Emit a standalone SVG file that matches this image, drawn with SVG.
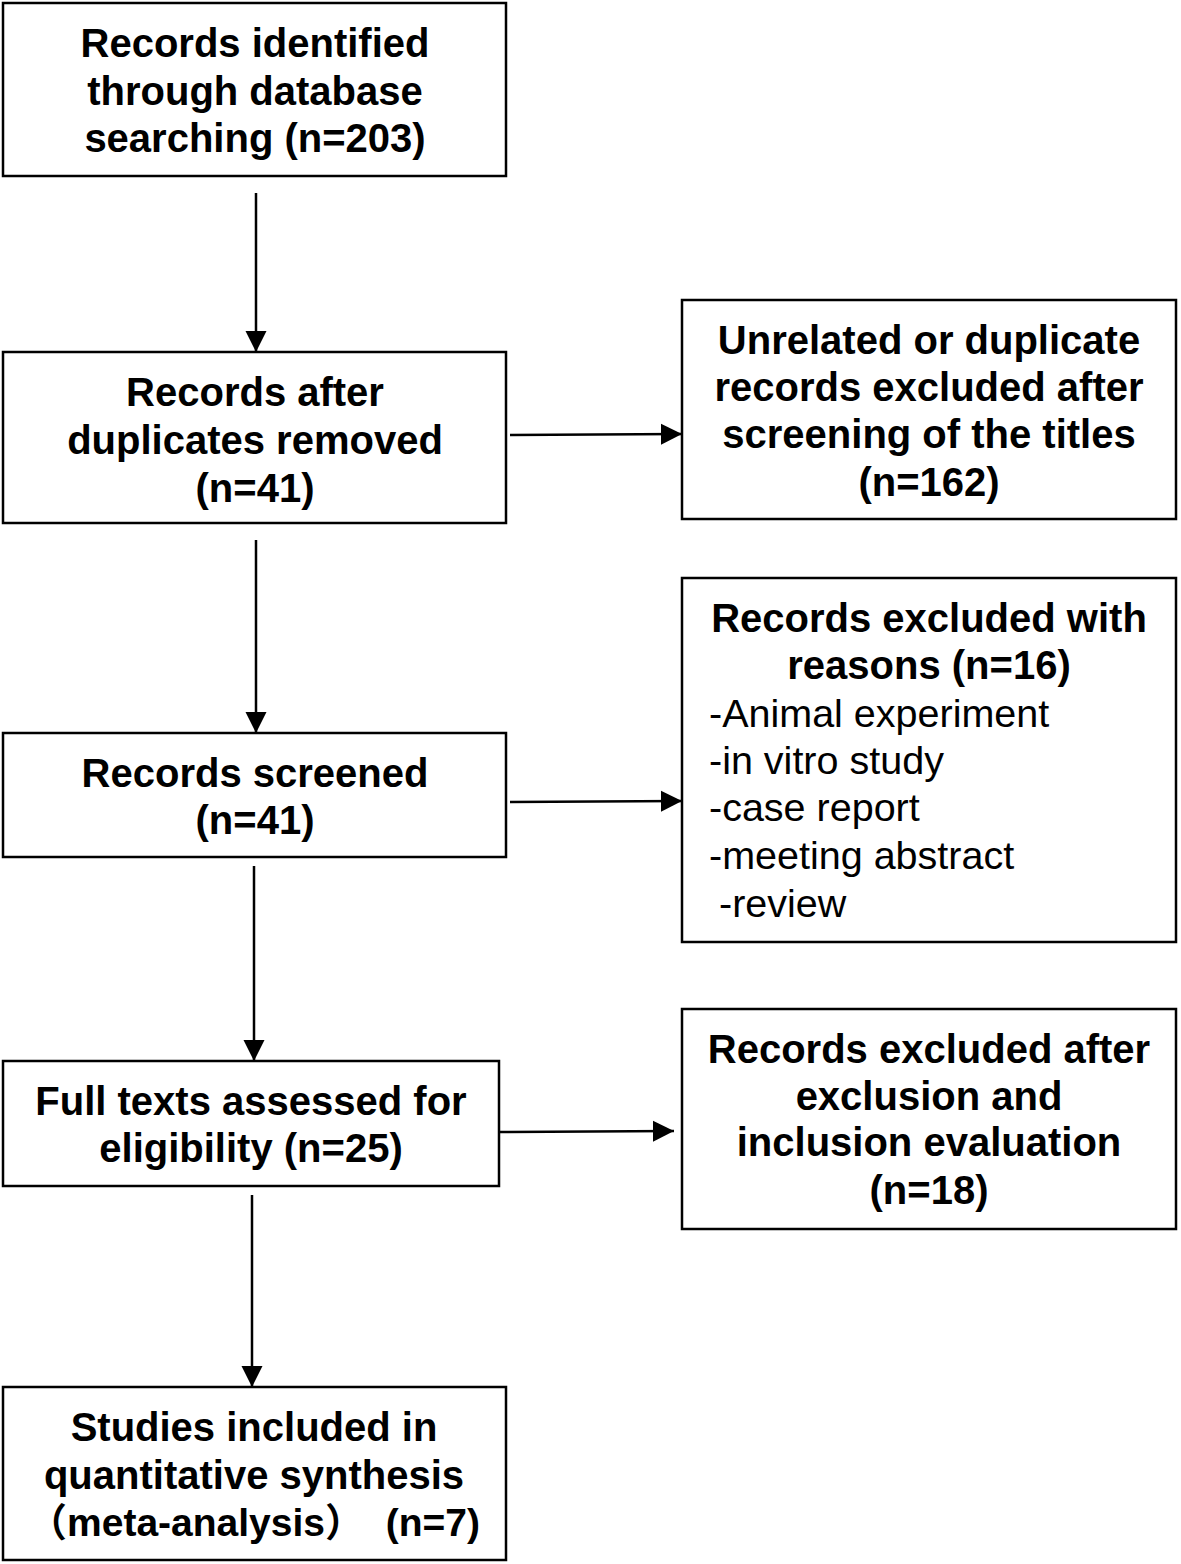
<svg xmlns="http://www.w3.org/2000/svg" width="1181" height="1564" viewBox="0 0 1181 1564">
<style>
.box{fill:#fff;stroke:#000;stroke-width:2.5}
.t{font-family:"Liberation Sans",Arial,"Noto Sans CJK SC",sans-serif;font-size:40px;font-weight:bold;text-anchor:middle;fill:#000}
.r{font-family:"Liberation Sans",Arial,sans-serif;font-size:39.5px;fill:#000}
.c{stroke:#000;stroke-width:2.5;fill:none;marker-end:url(#ah)}
</style>
<defs>
<marker id="ah" viewBox="0 0 10 10" refX="10" refY="5" markerWidth="8.5" markerHeight="8.5" markerUnits="strokeWidth" orient="auto">
<path d="M0,0 L10,5 L0,10 z" fill="#000"/>
</marker>
</defs>
<rect width="1181" height="1564" fill="#fff"/>
<g id="connectors">
<line class="c" x1="256" y1="193" x2="256" y2="352"/>
<line class="c" x1="510" y1="435" x2="682" y2="434"/>
<line class="c" x1="256" y1="540" x2="256" y2="733"/>
<line class="c" x1="510" y1="802" x2="682" y2="801"/>
<line class="c" x1="254" y1="866" x2="254" y2="1061"/>
<line class="c" x1="500" y1="1132" x2="674" y2="1131"/>
<line class="c" x1="252" y1="1195" x2="252" y2="1387"/>
</g>
<g id="n1">
<rect class="box" x="3" y="3" width="503" height="173"/>
<text class="t" x="255" y="57">Records identified</text>
<text class="t" x="255" y="105">through database</text>
<text class="t" x="255" y="152">searching (n=203)</text>
</g>
<g id="n2">
<rect class="box" x="3" y="352" width="503" height="171"/>
<text class="t" x="255" y="406">Records after</text>
<text class="t" x="255" y="454">duplicates removed</text>
<text class="t" x="255" y="502">(n=41)</text>
</g>
<g id="n3">
<rect class="box" x="682" y="300" width="494" height="219"/>
<text class="t" x="929" y="354">Unrelated or duplicate</text>
<text class="t" x="929" y="401">records excluded after</text>
<text class="t" x="929" y="448">screening of the titles</text>
<text class="t" x="929" y="496">(n=162)</text>
</g>
<g id="n4">
<rect class="box" x="3" y="733" width="503" height="124"/>
<text class="t" x="255" y="787">Records screened</text>
<text class="t" x="255" y="834">(n=41)</text>
</g>
<g id="n5">
<rect class="box" x="682" y="578" width="494" height="364"/>
<text class="t" x="929" y="632">Records excluded with</text>
<text class="t" x="929" y="679">reasons (n=16)</text>
<text class="r" x="709" y="727">-Animal experiment</text>
<text class="r" x="709" y="774">-in vitro study</text>
<text class="r" x="709" y="821">-case report</text>
<text class="r" x="709" y="869">-meeting abstract</text>
<text class="r" x="719" y="917">-review</text>
</g>
<g id="n6">
<rect class="box" x="3" y="1061" width="496" height="125"/>
<text class="t" x="251" y="1115">Full texts assessed for</text>
<text class="t" x="251" y="1162">eligibility (n=25)</text>
</g>
<g id="n7">
<rect class="box" x="682" y="1009" width="494" height="220"/>
<text class="t" x="929" y="1063">Records excluded after</text>
<text class="t" x="929" y="1110">exclusion and</text>
<text class="t" x="929" y="1156">inclusion evaluation</text>
<text class="t" x="929" y="1204">(n=18)</text>
</g>
<g id="n8">
<rect class="box" x="3" y="1387" width="503" height="173"/>
<text class="t" x="254" y="1441">Studies included in</text>
<text class="t" x="254" y="1489">quantitative synthesis</text>
<text class="t" x="254" y="1536" style="font-size:39px" xml:space="preserve">（meta-analysis）  (n=7)</text>
</g>
</svg>
